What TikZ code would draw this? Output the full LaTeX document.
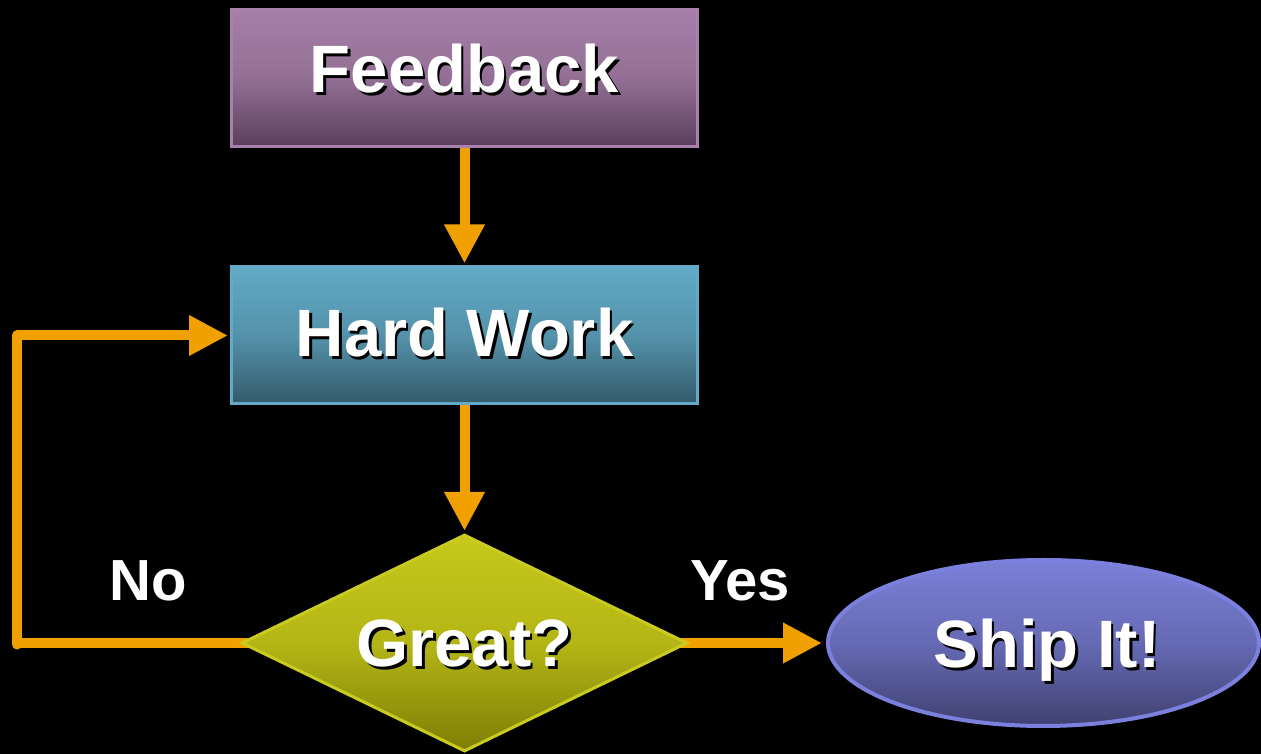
\documentclass[tikz,border=0pt]{standalone}
\usepackage{fontspec}
\setmainfont{Liberation Sans}
\usetikzlibrary{shapes.geometric,arrows.meta}
\pgfdeclarelayer{back}
\pgfdeclarelayer{bg}
\pgfsetlayers{back,bg,main}
\definecolor{orng}{HTML}{F0A000}
\definecolor{fbTop}{HTML}{A67FA8}
\definecolor{fbBot}{HTML}{5A3F5C}
\definecolor{fbLine}{HTML}{A880AB}
\definecolor{hwTop}{HTML}{62AAC6}
\definecolor{hwBot}{HTML}{335A6A}
\definecolor{hwLine}{HTML}{62AAC8}
\definecolor{grTop}{HTML}{C6C81B}
\definecolor{grBot}{HTML}{7E7E05}
\definecolor{grLine}{HTML}{C9CB1E}
\definecolor{shTop}{HTML}{7B80D8}
\definecolor{shBot}{HTML}{3F4070}
\definecolor{shLine}{HTML}{7B80DD}
\tikzset{
  box/.style={rectangle, minimum width=466pt, minimum height=137pt, line width=3pt, inner sep=0pt},
  arr/.style={draw=orng, line width=10pt, line join=round, shorten >=2pt, -{Triangle[length=39pt,width=38pt]}},
  btxt/.style={font=\bfseries\fontsize{67}{67}\selectfont, text=white, inner sep=0pt, anchor=base},
  shd/.style={btxt, text=black},
  ltxt/.style={font=\bfseries\fontsize{58}{58}\selectfont, text=white, inner sep=0pt, anchor=base}
}
\begin{document}
\begin{tikzpicture}[x=1pt,y=1pt]
\begin{pgfonlayer}{back}
\fill[black] (0,0) rectangle (1261,754);
\end{pgfonlayer}
\useasboundingbox (0,0) rectangle (1261,754);
% shapes
\node[box, draw=fbLine, top color=fbTop, bottom color=fbBot, middle color=fbTop!75!fbBot] (fb) at (464.5,676) {};
\node[box, draw=hwLine, top color=hwTop, bottom color=hwBot, middle color=hwTop!70!hwBot] (hw) at (464.5,418.5) {};
\node[diamond, draw=grLine, line width=3pt, top color=grTop, bottom color=grBot, middle color=grTop!75!grBot,
      minimum width=446pt, minimum height=217pt, inner sep=0pt] (gr) at (464.5,111) {};
\node[ellipse, draw=shLine, line width=4pt, top color=shTop, bottom color=shBot, middle color=shTop!65!shBot,
      minimum width=431pt, minimum height=166pt, inner sep=0pt] (sh) at (1043.5,111) {};
% texts with shadows
\node[shd] (fbS) at ([xshift=2.5pt,yshift=-17.5pt]fb.center) {Feedback};
\node[btxt] (fbT) at ([yshift=-15pt]fb.center) {Feedback};
\node[shd] (hwS) at ([xshift=2.5pt,yshift=-24pt]hw.center) {Hard Work};
\node[btxt] (hwT) at ([yshift=-21.5pt]hw.center) {Hard Work};
\node[shd] (grS) at ([xshift=2.5pt,yshift=-26.5pt]gr.center) {Great?};
\node[btxt] (grT) at ([yshift=-24pt]gr.center) {Great?};
\node[shd] (shS) at ([xshift=6pt,yshift=-27.5pt]sh.center) {Ship It!};
\node[btxt] (shT) at ([xshift=3.5pt,yshift=-25pt]sh.center) {Ship It!};
% labels
\node[ltxt] (no) at (148,153) {No};
\node[ltxt] (yes) at (740,153) {Yes};
% connectors
\coordinate (lc) at (17,109.5);
\begin{pgfonlayer}{bg}
\draw[arr] (fb) -- (hw);
\draw[arr] (hw) -- (gr);
\draw[arr, shorten >=4pt] (gr.center) -- (sh);
\draw[arr] (gr.center) -- (gr.center -| lc) -- (lc) |- (hw.west);
\end{pgfonlayer}
\end{tikzpicture}
\end{document}
